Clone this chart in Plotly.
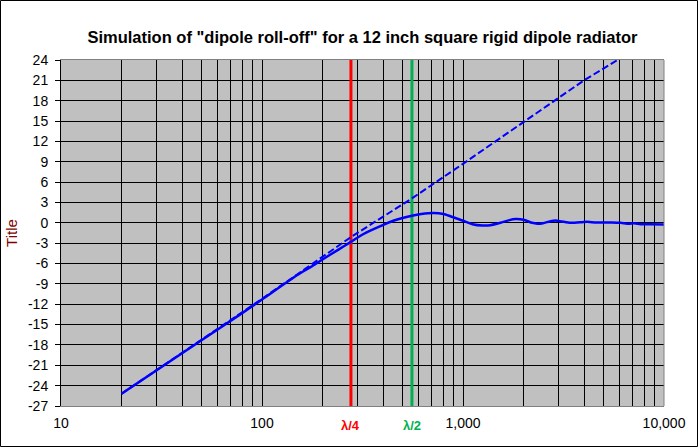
import math
import plotly.graph_objects as go

# Solid curve: simulated response (Hz, dB)
freq_sim = [20, 50, 78, 100, 150, 175, 200, 240, 277, 320, 388, 450, 557, 620, 713,
            800, 865, 1000, 1113, 1250, 1368, 1535, 1700, 1824, 2000, 2207, 2340,
            2500, 2700, 2884, 3100, 3428, 3917, 4150, 4600, 5500, 6087, 6685, 7080,
            7640, 8500, 10000]
db_sim = [-25.2, -17.3, -13.5, -11.3, -7.7, -6.5, -5.4, -3.95, -2.8, -1.65, -0.5, 0.3,
          1.05, 1.3, 1.45, 1.3, 0.97, 0.3, -0.2, -0.4, -0.35, 0.0, 0.4, 0.55, 0.45,
          0.0, -0.12, -0.05, 0.2, 0.35, 0.2, 0.0, 0.1, 0.15, 0.05, 0.05, 0.0, -0.15,
          -0.06, -0.2, -0.2, -0.25]

# Dashed curve: 6 dB/octave asymptote (Hz, dB)
freq_asym = [20, 100, 277, 557, 1000, 2000, 4000, 5875]
db_asym = [-25.2, -11.2, -2.1, 3.6, 8.7, 14.9, 21.0, 24.0]

# Marker frequencies
lambda_quarter = 277
lambda_half = 557

y_ticks = list(range(-27, 25, 3))
x_grid = [m * 10 ** e for e in range(1, 4) for m in range(1, 10)] + [10000]
x_major = {10: "10", 100: "100", 1000: "1,000", 10000: "10,000"}

fig = go.Figure()

fig.add_trace(go.Scatter(x=[lambda_quarter, lambda_quarter], y=[-27, 24], mode="lines",
                         line=dict(color="#FF0000", width=3), showlegend=False))
fig.add_trace(go.Scatter(x=[lambda_half, lambda_half], y=[-27, 24], mode="lines",
                         line=dict(color="#00B050", width=3), showlegend=False))
fig.add_trace(go.Scatter(x=freq_asym, y=db_asym, mode="lines",
                         line=dict(color="#0000FF", width=2, dash="7px,3px"),
                         showlegend=False))
fig.add_trace(go.Scatter(x=freq_sim, y=db_sim, mode="lines",
                         line=dict(color="#0000FF", width=2.5, shape="spline", smoothing=0.6),
                         showlegend=False))

L, R, T, B = 61, 34, 60, 41
W, H = 698, 447
pw, ph = W - L - R, H - T - B

fig.update_layout(
    width=W, height=H,
    margin=dict(l=L, r=R, t=T, b=B, autoexpand=False),
    paper_bgcolor="white",
    plot_bgcolor="#C0C0C0",
    title=dict(text='<b>Simulation of "dipole roll-off" for a 12 inch square rigid dipole radiator</b>',
               x=(L + pw / 2) / W, xanchor="center", y=1 - 37 / H, yanchor="middle",
               font=dict(family="Liberation Sans", size=16.5, color="black")),
    xaxis=dict(type="log", range=[1, 4], automargin=False,
               tickvals=x_grid,
               ticktext=[x_major.get(v, "") for v in x_grid],
               showgrid=True, gridcolor="black", gridwidth=1,
               showline=True, linecolor="#808080", linewidth=1, mirror=True,
               ticks="", zeroline=False, ticklabelstandoff=4,
               tickfont=dict(family="Liberation Sans", size=14, color="black")),
    yaxis=dict(range=[-27, 24], tickvals=y_ticks, automargin=False,
               ticktext=[str(v) for v in y_ticks],
               showgrid=True, gridcolor="black", gridwidth=1,
               showline=True, linecolor="black", linewidth=1,
               ticks="outside", ticklen=5, tickcolor="black",
               zeroline=False, ticklabelstandoff=4,
               tickfont=dict(family="Liberation Sans", size=14, color="black"),
               title=dict(text="Title", standoff=6,
                          font=dict(family="Liberation Sans", size=15, color="#800000"))),
    shapes=[
        dict(type="line", xref="paper", yref="paper", x0=1, x1=1, y0=0, y1=1,
             line=dict(color="#808080", width=1)),
        dict(type="rect", xref="paper", yref="paper",
             x0=(-L + 0.5) / pw, x1=(W - L - 0.5) / pw,
             y0=-(B - 0.5) / ph, y1=(H - B - 0.5) / ph,
             line=dict(color="black", width=1)),
    ],
    annotations=[
        dict(x=math.log10(lambda_quarter), y=-19 / ph, xref="x", yref="paper",
             text="<b>λ/4</b>", showarrow=False, yanchor="middle",
             font=dict(family="Liberation Sans", size=13, color="#FF0000")),
        dict(x=math.log10(lambda_half), y=-19 / ph, xref="x", yref="paper",
             text="<b>λ/2</b>", showarrow=False, yanchor="middle",
             font=dict(family="Liberation Sans", size=13, color="#00B050")),
    ],
)

fig.write_html("out.html", config={"displayModeBar": False},
               post_script="document.body.style.margin='0';document.body.style.overflow='hidden';")
